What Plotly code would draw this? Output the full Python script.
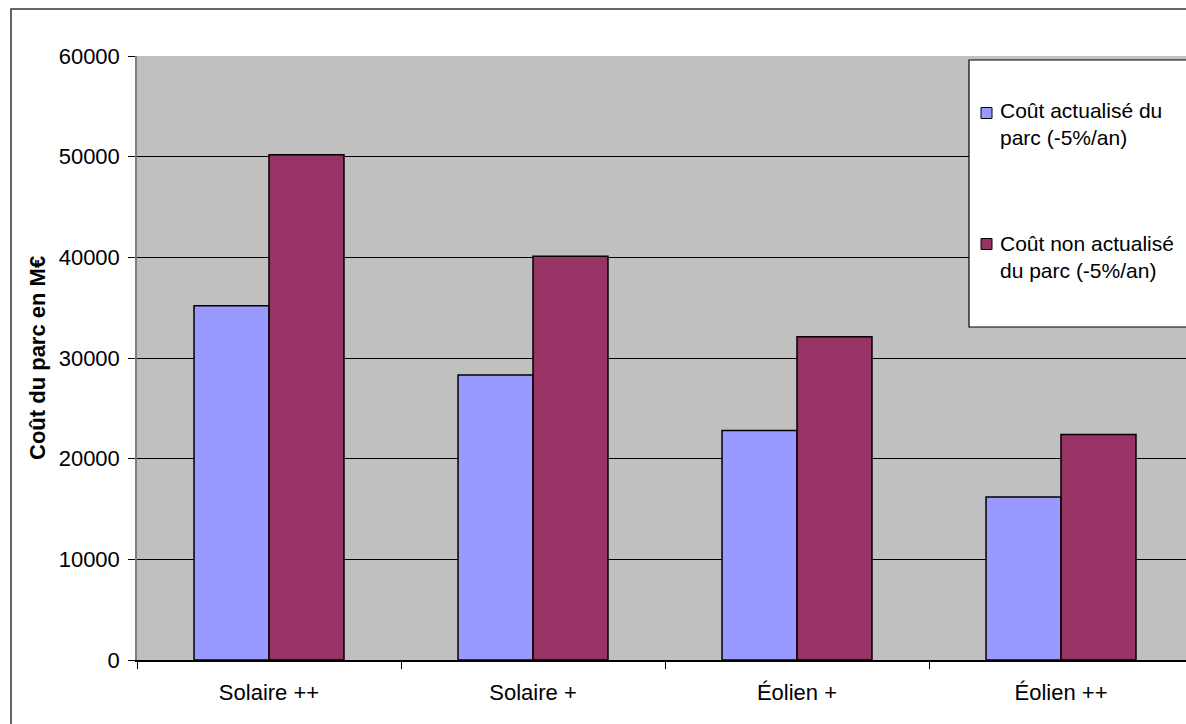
import plotly.graph_objects as go

# Chart data
categories = ["Solaire ++", "Solaire +", "Éolien +", "Éolien ++"]
cout_actualise = [35200, 28300, 22800, 16200]
cout_non_actualise = [50200, 40100, 32100, 22400]
y_ticks = [0, 10000, 20000, 30000, 40000, 50000, 60000]

series_names = ["Coût actualisé du parc (-5%/an)", "Coût non actualisé du parc (-5%/an)"]
legend_labels = ["Coût actualisé du<br>parc (-5%/an)", "Coût non actualisé<br>du parc (-5%/an)"]

BLUE = "#9999FF"
PLUM = "#993366"
FONT = "Liberation Sans, Arial, sans-serif"
FS = 22

W, H = 1186, 724
ML, MT, MB = 137, 56, 64
PW = W - ML
PH = H - MT - MB
CAT_PX = 264  # pixel width of one category slot


def px_x(x):
    return (x - ML) / PW


def px_y(y):
    return (H - MB - y) / PH


fig = go.Figure()
fig.add_trace(go.Bar(x=categories, y=cout_actualise, name=series_names[0],
                     marker=dict(color=BLUE, line=dict(color="black", width=1.5))))
fig.add_trace(go.Bar(x=categories, y=cout_non_actualise, name=series_names[1],
                     marker=dict(color=PLUM, line=dict(color="black", width=1.5))))

shapes = [
    # outer chart frame
    dict(type="rect", xref="paper", yref="paper",
         x0=px_x(11), x1=1.3, y0=-0.3, y1=px_y(9),
         line=dict(color="#333333", width=1.5), fillcolor="rgba(0,0,0,0)", layer="above"),
    # legend box
    dict(type="rect", xref="paper", yref="paper",
         x0=px_x(969), x1=1.3, y0=px_y(327), y1=px_y(60),
         line=dict(color="black", width=1.2), fillcolor="white", layer="above"),
]
annotations = [
    dict(text="<b>Coût du parc en M€</b>", xref="paper", yref="paper",
         x=px_x(37), y=0.5, xanchor="center", yanchor="middle",
         textangle=-90, showarrow=False,
         font=dict(family=FONT, size=FS, color="black")),
]

legend_colors = [BLUE, PLUM]
marker_centers = [113, 244]
label_centers = [123.5, 256.5]
for i in range(2):
    mc = marker_centers[i]
    shapes.append(dict(type="rect", xref="paper", yref="paper",
                       x0=px_x(981), x1=px_x(992), y0=px_y(mc + 5.5), y1=px_y(mc - 5.5),
                       line=dict(color="black", width=1), fillcolor=legend_colors[i], layer="above"))
    annotations.append(dict(text=legend_labels[i], xref="paper", yref="paper",
                            x=px_x(999), y=px_y(label_centers[i]), xanchor="left", yanchor="middle",
                            align="left", showarrow=False, borderpad=0,
                            font=dict(family=FONT, size=21, color="black")))

fig.update_layout(
    width=W, height=H,
    margin=dict(l=ML, r=0, t=MT, b=MB, pad=0),
    paper_bgcolor="white",
    plot_bgcolor="#C0C0C0",
    barmode="group",
    bargap=0.432,
    bargroupgap=0,
    showlegend=False,
    font=dict(family=FONT, size=FS, color="black"),
    shapes=shapes,
    annotations=annotations,
    xaxis=dict(
        type="category",
        range=[-0.5, -0.5 + PW / CAT_PX],
        tickson="boundaries",
        ticks="outside", ticklen=7, tickcolor="black",
        ticklabelstandoff=12,
        showline=True, linecolor="black", linewidth=1.5,
        showgrid=False,
        tickfont=dict(family=FONT, size=FS, color="black"),
    ),
    yaxis=dict(
        range=[0, 60000],
        tickvals=y_ticks,
        ticktext=[str(v) for v in y_ticks],
        ticks="outside", ticklen=7, tickcolor="black",
        ticklabelstandoff=4,
        showline=True, linecolor="#808080", linewidth=1.5,
        showgrid=True, gridcolor="black", gridwidth=1,
        zeroline=False,
        tickfont=dict(family=FONT, size=FS, color="black"),
    ),
)

fig.write_html("out.html")
